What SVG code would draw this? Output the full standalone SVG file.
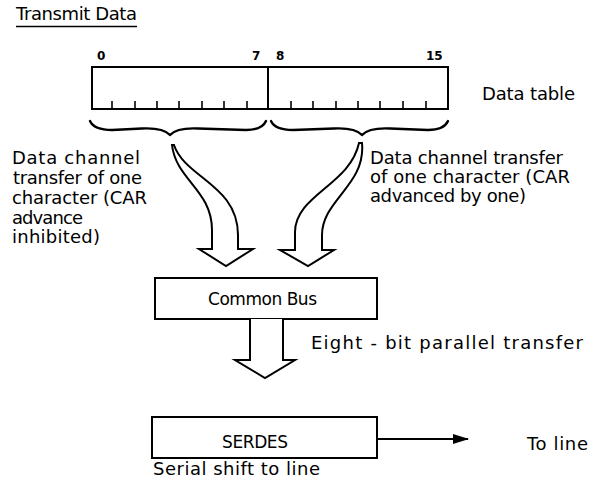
<svg xmlns="http://www.w3.org/2000/svg" width="606" height="485" viewBox="0 0 606 485">
<style>
  .t { font-family: "DejaVu Sans", "Liberation Sans", sans-serif; font-size: 18px; fill: #000; }
  .s { font-size: 17px; }
  .n { font-family: "DejaVu Sans", "Liberation Sans", sans-serif; font-size: 12px; font-weight: bold; fill: #000; }
  .box { fill: #fff; stroke: #000; stroke-width: 2; }
  .ln { fill: none; stroke: #000; stroke-width: 2; }
  .tick { stroke: #000; stroke-width: 1.6; }
  .brace { fill: none; stroke: #000; stroke-width: 2.4; stroke-linecap: round; stroke-linejoin: round; }
  .fat { fill: #fff; stroke: #000; stroke-width: 2; stroke-linejoin: miter; }
</style>
<defs>
  <marker id="ah" markerWidth="16" markerHeight="10" refX="15" refY="5" orient="auto" markerUnits="userSpaceOnUse">
    <polygon points="0,0 16,5 0,10" fill="#000"/>
  </marker>
</defs>
<rect width="606" height="485" fill="#fff"/>

<g id="title">
  <text class="t" x="16" y="20" textLength="121" lengthAdjust="spacing">Transmit Data</text>
  <line x1="16" y1="26.5" x2="137" y2="26.5" stroke="#000" stroke-width="1.5"/>
</g>

<g id="data-table">
  <rect class="box" x="92" y="67" width="356" height="42"/>
  <line class="ln" x1="268" y1="67" x2="268" y2="109"/>
  <g class="tick">
    <line x1="112" y1="101" x2="112" y2="109"/>
    <line x1="135" y1="101" x2="135" y2="109"/>
    <line x1="157" y1="101" x2="157" y2="109"/>
    <line x1="179" y1="101" x2="179" y2="109"/>
    <line x1="202" y1="101" x2="202" y2="109"/>
    <line x1="224" y1="101" x2="224" y2="109"/>
    <line x1="247" y1="101" x2="247" y2="109"/>
    <line x1="291" y1="101" x2="291" y2="109"/>
    <line x1="313" y1="101" x2="313" y2="109"/>
    <line x1="336" y1="101" x2="336" y2="109"/>
    <line x1="358" y1="101" x2="358" y2="109"/>
    <line x1="380" y1="101" x2="380" y2="109"/>
    <line x1="403" y1="101" x2="403" y2="109"/>
    <line x1="426" y1="101" x2="426" y2="109"/>
  </g>
  <text class="n" x="97" y="60">0</text>
  <text class="n" x="252" y="60">7</text>
  <text class="n" x="276" y="60">8</text>
  <text class="n" x="426" y="60">15</text>
  <text class="t" x="482" y="100" textLength="93" lengthAdjust="spacing">Data table</text>
</g>

<g id="braces">
  <path class="brace" d="M 90 121 Q 94 130 112 130 L 142 128.5 Q 163 127.5 170 135 Q 177 127.5 198 128.5 L 246 130 Q 262 130 266 121"/>
  <path class="brace" d="M 271 121 Q 275 130 293 130 L 334 128.5 Q 355 127.5 362 135 Q 369 127.5 390 128.5 L 428 130 Q 444 130 448 121"/>
</g>

<g id="label-left">
  <text class="t" x="12" y="164" textLength="128" lengthAdjust="spacing">Data channel</text>
  <text class="t" x="13" y="184" textLength="129" lengthAdjust="spacing">transfer of one</text>
  <text class="t" x="12" y="204" textLength="135" lengthAdjust="spacing">character (CAR</text>
  <text class="t" x="12" y="224" textLength="71" lengthAdjust="spacing">advance</text>
  <text class="t" x="12" y="243" textLength="88" lengthAdjust="spacing">inhibited)</text>
</g>

<g id="label-right">
  <text class="t" x="370" y="164" textLength="193" lengthAdjust="spacing">Data channel transfer</text>
  <text class="t" x="370" y="183" textLength="200" lengthAdjust="spacing">of one character (CAR</text>
  <text class="t" x="370" y="202" textLength="156" lengthAdjust="spacing">advanced by one)</text>
</g>

<g id="common-bus">
  <rect class="box" x="155" y="278" width="222" height="41"/>
  <text class="t s" x="208" y="305" textLength="109" lengthAdjust="spacing">Common Bus</text>
</g>

<g id="serdes">
  <rect class="box" x="152" y="417" width="225" height="41"/>
  <text class="t s" x="222" y="448" textLength="66" lengthAdjust="spacing">SERDES</text>
  <text class="t" x="153" y="475" textLength="167" lengthAdjust="spacing">Serial shift to line</text>
</g>

<g id="connectors">
  <path class="fat" d="M 172 145 C 176 180 212 190 212 230 L 212 249 L 199 249 L 226 266 L 253 249 L 238 249 L 238 235 C 238 185 185 178 174 145 Z"/>
  <path class="fat" d="M 359 143 C 350 185 295 195 295 232 L 295 250 L 280 250 L 308 266 L 334 250 L 322 250 L 322 235 C 322 200 366 185 362 143 Z"/>
  <path class="fat" d="M 250 319 L 250 360 L 235 360 L 265 378 L 295 360 L 283 360 L 283 319"/>
  <line class="ln" x1="377" y1="439" x2="468" y2="439" marker-end="url(#ah)"/>
</g>

<g id="edge-labels">
  <text class="t" x="311" y="349" textLength="272" lengthAdjust="spacing">Eight - bit parallel transfer</text>
  <text class="t" x="527" y="450" textLength="61" lengthAdjust="spacing">To line</text>
</g>
</svg>
